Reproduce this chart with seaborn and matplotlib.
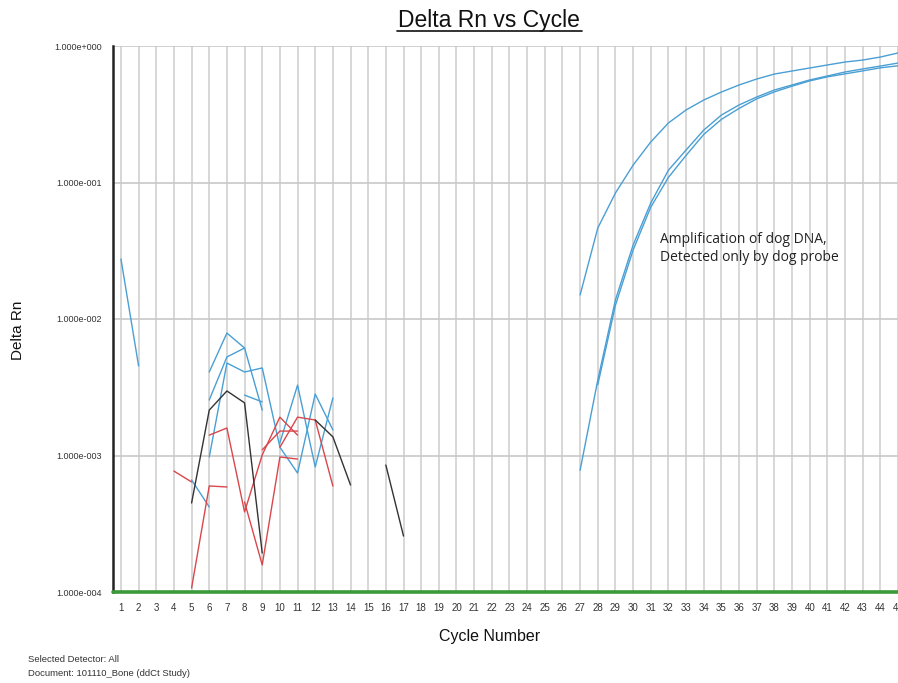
import numpy as np
import pandas as pd
import matplotlib
matplotlib.use("Agg")
import matplotlib.pyplot as plt
from matplotlib.lines import Line2D
import seaborn as sns

# ---- data -------------------------------------------------------------
cycles = list(range(1, 46))
cycle_labels = [str(c) for c in cycles]
y_ticks = [1e-4, 1e-3, 1e-2, 1e-1, 1e0]
y_tick_labels = ["1.000e-004", "1.000e-003", "1.000e-002", "1.000e-001", "1.000e+000"]

# amplification curves (dog probe)
amp_a_cycles = list(range(27, 46))
amp_a_values = [0.0150, 0.0464, 0.0838, 0.134, 0.198, 0.273, 0.340, 0.402, 0.460,
                0.518, 0.573, 0.623, 0.656, 0.690, 0.726, 0.763, 0.789, 0.830, 0.889]
amp_b_cycles = list(range(27, 46))
amp_b_values = [0.00078, 0.00357, 0.0138, 0.0348, 0.0708, 0.123, 0.173, 0.242, 0.312,
                0.370, 0.423, 0.476, 0.518, 0.564, 0.603, 0.645, 0.679, 0.713, 0.750]
amp_c_cycles = list(range(28, 46))
amp_c_values = [0.00330, 0.0126, 0.0320, 0.0660, 0.109, 0.158, 0.225, 0.290,
                0.349, 0.410, 0.461, 0.508, 0.555, 0.594, 0.625, 0.657, 0.692, 0.716]

# early background noise, blue wells
blue_1_cycles = [1, 2]
blue_1_values = [0.0275, 0.00453]
blue_2_cycles = [6, 7, 8, 9]
blue_2_values = [0.00409, 0.00789, 0.00613, 0.00215]
blue_3_cycles = [6, 7, 8]
blue_3_values = [0.00255, 0.00527, 0.00613]
blue_4_cycles = [6, 7, 8, 9, 10, 11, 12, 13]
blue_4_values = [0.000975, 0.00476, 0.00409, 0.00438, 0.00115, 0.000744, 0.00282, 0.00154]
blue_5_cycles = [10, 11, 12, 13]
blue_5_values = [0.00124, 0.00328, 0.000824, 0.00264]
blue_6_cycles = [5, 6]
blue_6_values = [0.000662, 0.000420]
blue_7_cycles = [8, 9]
blue_7_values = [0.00277, 0.00247]

# early background noise, red wells
red_1_cycles = [4, 5]
red_1_values = [0.000769, 0.000640]
red_2_cycles = [5, 6, 7]
red_2_values = [0.000107, 0.000598, 0.000588]
red_3_cycles = [6, 7, 8, 9, 10, 11]
red_3_values = [0.00141, 0.00159, 0.000386, 0.00101, 0.00191, 0.00141]
red_4_cycles = [8, 9, 10, 11]
red_4_values = [0.000456, 0.000158, 0.000975, 0.000942]
red_5_cycles = [9, 10, 11]
red_5_values = [0.00110, 0.00151, 0.00151]
red_6_cycles = [10, 11, 12, 13]
red_6_values = [0.00115, 0.00191, 0.00182, 0.000598]

# early background noise, black wells
black_1_cycles = [5, 6, 7, 8, 9]
black_1_values = [0.000449, 0.00215, 0.00297, 0.00243, 0.000193]
black_2_cycles = [12, 13, 14]
black_2_values = [0.00182, 0.00137, 0.000608]
black_3_cycles = [16, 17]
black_3_values = [0.000851, 0.000257]

BLUE = "#4a9fd4"
RED = "#d9474b"
BLACK = "#333333"

series = [
    ("amp_a", amp_a_cycles, amp_a_values, BLUE),
    ("amp_b", amp_b_cycles, amp_b_values, BLUE),
    ("amp_c", amp_c_cycles, amp_c_values, BLUE),
    ("blue_1", blue_1_cycles, blue_1_values, BLUE),
    ("blue_2", blue_2_cycles, blue_2_values, BLUE),
    ("blue_3", blue_3_cycles, blue_3_values, BLUE),
    ("blue_4", blue_4_cycles, blue_4_values, BLUE),
    ("blue_5", blue_5_cycles, blue_5_values, BLUE),
    ("blue_6", blue_6_cycles, blue_6_values, BLUE),
    ("blue_7", blue_7_cycles, blue_7_values, BLUE),
    ("red_1", red_1_cycles, red_1_values, RED),
    ("red_2", red_2_cycles, red_2_values, RED),
    ("red_3", red_3_cycles, red_3_values, RED),
    ("red_4", red_4_cycles, red_4_values, RED),
    ("red_5", red_5_cycles, red_5_values, RED),
    ("red_6", red_6_cycles, red_6_values, RED),
    ("black_1", black_1_cycles, black_1_values, BLACK),
    ("black_2", black_2_cycles, black_2_values, BLACK),
    ("black_3", black_3_cycles, black_3_values, BLACK),
]

rows = []
for name, xs, ys, _ in series:
    for x, y in zip(xs, ys):
        rows.append({"well": name, "cycle": x, "delta_rn": y})
df = pd.DataFrame(rows)
palette = {name: col for name, _, _, col in series}

# ---- figure -----------------------------------------------------------
sns.set_style("white")
plt.rcParams["font.family"] = ["Liberation Sans", "DejaVu Sans"]

fig = plt.figure(figsize=(8.98, 6.83), dpi=100)
ax = fig.add_axes([113 / 898, 1 - 592 / 683, 1 - 113 / 898, (592 - 46) / 683])

sns.lineplot(data=df, x="cycle", y="delta_rn", hue="well", units="well",
             estimator=None, sort=False, palette=palette, linewidth=1.0,
             legend=False, ax=ax, zorder=3)

ax.set_yscale("log")
ax.set_ylim(1e-4, 1e0)
ax.set_xlim(0.55, 44.97)

ax.set_xticks(cycles)
ax.set_xticklabels(cycle_labels, fontsize=7, color="#333333")
ax.set_yticks(y_ticks)
ax.set_yticklabels(y_tick_labels, fontsize=6.5, color="#333333")
ax.yaxis.set_minor_locator(matplotlib.ticker.NullLocator())
ax.tick_params(axis="both", length=0)
ax.tick_params(axis="x", pad=8)
ax.tick_params(axis="y", pad=8)

# grid: a line at every cycle, one per decade
for c in cycles:
    ax.axvline(c, color="#d4d4d4", lw=1.3, zorder=1)
for t in y_ticks[1:]:
    ax.axhline(t, color="#c8c8c8", lw=1.2, zorder=1)

# threshold line along the bottom
ax.axhline(1e-4, color="#3a9a3a", lw=2.6, zorder=4, clip_on=False)

for side in ["top", "right", "bottom"]:
    ax.spines[side].set_visible(False)
ax.spines["left"].set_color("#222222")
ax.spines["left"].set_linewidth(1.8)

ax.set_xlabel("")
ax.set_ylabel("")

# title with underline
title = fig.text(489 / 898, 1 - 21 / 683, "Delta Rn vs Cycle", fontsize=16.5,
                 ha="center", va="center", color="#111111")
fig.add_artist(Line2D([397 / 898, 582 / 898], [1 - 31 / 683, 1 - 31 / 683],
                      color="#111111", lw=1.2))

fig.text(18 / 898, 1 - 330 / 683, "Delta Rn", rotation=90, fontsize=11,
         ha="center", va="center", color="#111111")
fig.text(490 / 898, 1 - 637 / 683, "Cycle Number", fontsize=11.5,
         ha="center", va="center", color="#111111")

fig.text(28 / 898, 1 - 660 / 683, "Selected Detector: All", fontsize=6.8,
         ha="left", va="center", color="#333333")
fig.text(28 / 898, 1 - 674 / 683, "Document: 101110_Bone (ddCt Study)", fontsize=6.8,
         ha="left", va="center", color="#333333")

ax.text(31.5, 0.0434, "Amplification of dog DNA,\nDetected only by dog probe",
        fontsize=10, family=["Open Sans", "DejaVu Sans"], ha="left", va="top",
        color="#222222", linespacing=1.25, zorder=5)

fig.savefig("out.png", dpi=100)
